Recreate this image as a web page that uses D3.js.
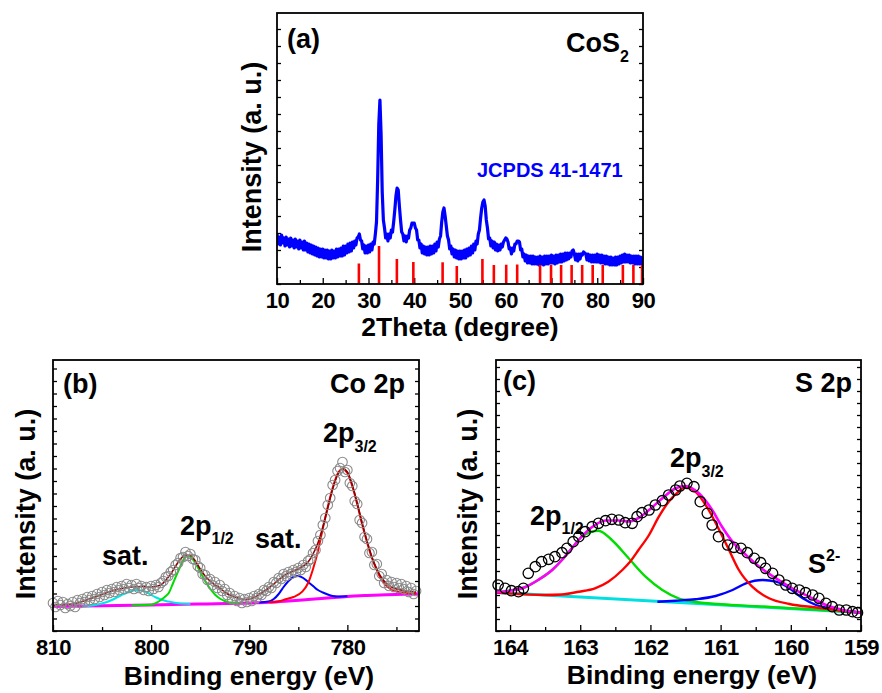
<!DOCTYPE html>
<html><head><meta charset="utf-8">
<script src="https://cdn.jsdelivr.net/npm/d3@7"></script>
<style>
body{margin:0;background:#fff}
text{font-family:"Liberation Sans",Arial,sans-serif;font-weight:bold;fill:#000}
</style>
</head><body>
<svg id="chart" width="882" height="693"></svg>
<script>
// ---------------- Panel (a): XRD ----------------
const xrdTicks = [10,20,30,40,50,60,70,80,90];
const xrdMinorTicks = [15,25,35,45,55,65,75,85];
const xrdData = [
[10,50],[10.25,40],[10.5,47],[10.75,39],[11,49],[11.25,41],[11.5,46],[11.75,38],[12,47],[12.25,39],[12.5,45],[12.75,37],
[13,46],[13.25,38],[13.5,44],[13.75,36],[14,45],[14.25,37],[14.5,43],[14.75,35],[15,44],[15.25,36],[15.5,42],[15.75,34],
[16,43],[16.25,34],[16.5,41],[16.75,32],[17,40],[17.25,31],[17.5,39],[17.75,30],[18,38],[18.25,29],[18.5,37],[18.75,28],
[19,36],[19.25,27],[19.5,35],[19.75,27],[20,35],[20.25,26],[20.5,34],[20.75,26],[21,34],[21.25,25],[21.5,33],[21.75,25],
[22,34],[22.25,26],[22.5,33],[22.75,26],[23,35],[23.25,27],[23.5,35],[23.75,28],[24,36],[24.25,28],[24.5,38],[24.75,29],
[25,38],[25.25,31],[25.5,40],[25.75,32],[26,41],[26.25,33],[26.5,42],[26.75,36],[27,43],[27.25,39],[27.5,46],[27.75,47],
[28,50],[28.25,44],[28.5,43],[28.75,35],[29,39],[29.25,31],[29.5,38],[29.75,31],[30,39],[30.25,32],[30.5,40],[30.75,34],
[31,42],[31.25,40],[31.5,50],[31.75,62],[32,104],[32.25,160],[32.5,184],[32.75,150],[33,92],[33.25,64],[33.5,56],[33.75,46],
[34,50],[34.25,43],[34.5,50],[34.75,46],[35,54],[35.25,52],[35.5,62],[35.75,74],[36,88],[36.25,96],[36.5,94],[36.75,78],
[37,64],[37.25,52],[37.5,50],[37.75,43],[38,48],[38.25,42],[38.5,48],[38.75,46],[39,54],[39.25,56],[39.5,61],[39.75,61],
[40,61],[40.25,56],[40.5,54],[40.75,44],[41,44],[41.25,36],[41.5,40],[41.75,31],[42,38],[42.25,30],[42.5,37],[42.75,29],
[43,37],[43.25,29],[43.5,38],[43.75,30],[44,38],[44.25,31],[44.5,40],[44.75,33],[45,42],[45.25,37],[45.5,45],[45.75,48],
[46,62],[46.25,72],[46.5,76],[46.75,68],[47,58],[47.25,48],[47.5,44],[47.75,35],[48,38],[48.25,30],[48.5,35],[48.75,27],
[49,34],[49.25,26],[49.5,33],[49.75,25],[50,33],[50.25,25],[50.5,33],[50.75,26],[51,34],[51.25,26],[51.5,35],[51.75,28],
[52,36],[52.25,29],[52.5,38],[52.75,31],[53,40],[53.25,34],[53.5,43],[53.75,40],[54,50],[54.25,54],[54.5,66],[54.75,76],
[55,82],[55.25,84],[55.5,78],[55.75,64],[56,56],[56.25,45],[56.5,46],[56.75,38],[57,43],[57.25,36],[57.5,42],[57.75,34],
[58,40],[58.25,33],[58.5,39],[58.75,34],[59,40],[59.25,37],[59.5,42],[59.75,44],[60,46],[60.25,45],[60.5,42],[60.75,35],
[61,36],[61.25,30],[61.5,36],[61.75,33],[62,40],[62.25,40],[62.5,43],[62.75,43],[63,42],[63.25,34],[63.5,35],[63.75,27],
[64,30],[64.25,23],[64.5,29],[64.75,21],[65,28],[65.25,21],[65.5,28],[65.75,20],[66,28],[66.25,20],[66.5,27],[66.75,20],
[67,27],[67.25,19],[67.5,28],[67.75,20],[68,27],[68.25,19],[68.5,28],[68.75,20],[69,28],[69.25,20],[69.5,28],[69.75,21],
[70,29],[70.25,21],[70.5,28],[70.75,20],[71,29],[71.25,21],[71.5,29],[71.75,22],[72,30],[72.25,22],[72.5,30],[72.75,23],
[73,31],[73.25,24],[73.5,31],[73.75,25],[74,31],[74.25,27],[74.5,33],[74.75,34],[75,30],[75.25,24],[75.5,30],[75.75,23],
[76,30],[76.25,25],[76.5,30],[76.75,29],[77,32],[77.25,31],[77.5,30],[77.75,24],[78,30],[78.25,23],[78.5,29],[78.75,22],
[79,29],[79.25,22],[79.5,29],[79.75,22],[80,30],[80.25,22],[80.5,29],[80.75,21],[81,29],[81.25,21],[81.5,28],[81.75,20],
[82,28],[82.25,20],[82.5,27],[82.75,19],[83,27],[83.25,19],[83.5,26],[83.75,19],[84,27],[84.25,19],[84.5,27],[84.75,20],
[85,28],[85.25,21],[85.5,29],[85.75,22],[86,30],[86.25,22],[86.5,29],[86.75,22],[87,29],[87.25,21],[87.5,28],[87.75,21],
[88,28],[88.25,20],[88.5,28],[88.75,20],[89,28],[89.25,20],[89.5,27],[89.75,20],[90,27]
];
const jcpdsAngle = [27.9,32.3,36.2,39.8,46.2,49.3,54.9,57.4,60.1,62.5,67.5,69.9,72.1,74.4,76.7,79.0,81.2,85.6,87.9,89.8];
const jcpdsInt   = [20.5,38,25,22,21.7,18,25,19,19.3,19.5,19,19,19,19,19,19,19,19,19,19];

// ---------------- Panel (b): Co 2p ----------------
const coTicks = [810,800,790,780];
const coMinorTicks = [805,795,785,775];
const coData = [
[810,28],[809.75,24],[809.5,30],[809.25,26],[809,29],[808.75,23],[808.5,27],[808.25,25],[808,29],[807.75,24],[807.5,31],[807.25,28],
[807,32],[806.75,29],[806.5,34],[806.25,31],[806,35],[805.75,32],[805.5,37],[805.25,34],[805,39],[804.75,36],[804.5,41],[804.25,38],
[804,42],[803.75,39],[803.5,44],[803.25,41],[803,45],[802.75,42],[802.5,47],[802.25,43],[802,46],[801.75,42],[801.5,47],[801.25,43],
[801,45],[800.75,41],[800.5,44],[800.25,40],[800,45],[799.75,42],[799.5,46],[799.25,44],[799,48],[798.75,50],[798.5,54],[798.25,55],
[798,59],[797.75,61],[797.5,66],[797.25,68],[797,73],[796.75,74],[796.5,79],[796.25,75],[796,77],[795.75,72],[795.5,71],[795.25,65],
[795,63],[794.75,57],[794.5,56],[794.25,51],[794,52],[793.75,46],[793.5,49],[793.25,43],[793,46],[792.75,40],[792.5,42],[792.25,36],
[792,38],[791.75,32],[791.5,35],[791.25,30],[791,33],[790.75,28],[790.5,32],[790.25,29],[790,33],[789.75,30],[789.5,35],[789.25,33],
[789,37],[788.75,36],[788.5,41],[788.25,40],[788,44],[787.75,43],[787.5,49],[787.25,48],[787,53],[786.75,52],[786.5,57],[786.25,55],
[786,59],[785.75,57],[785.5,61],[785.25,59],[785,63],[784.75,61],[784.5,66],[784.25,64],[784,70],[783.75,72],[783.5,78],[783.25,81],
[783,90],[782.75,96],[782.5,106],[782.25,113],[782,126],[781.75,133],[781.5,146],[781.25,151],[781,160],[780.75,163],[780.5,169],[780.25,159],
[780,161],[779.75,148],[779.5,145],[779.25,130],[779,127],[778.75,111],[778.5,108],[778.25,94],[778,92],[777.75,78],[777.5,79],[777.25,66],
[777,67],[776.75,55],[776.5,57],[776.25,48],[776,51],[775.75,45],[775.5,49],[775.25,44],[775,48],[774.75,43],[774.5,47],[774.25,42],
[774,45],[773.75,39],[773.5,43],[773.25,37],[773,40]
];
const coEnvelope = [[810,26],[808,27],[806,33],[804,40],[802,44],[801,44.5],[800,44],[799,46],[798.5,51],[798,57],[797.5,65],[797,72],
[796.5,76],[796,75.5],[795.5,70],[795,62],[794.5,55],[794,50],[793.5,46],[793,43],[792.5,39],[792,36],[791.5,34],[791,32.5],[790.5,31.5],
[790,32],[789.5,33.5],[789,36.5],[788.5,39.5],[788,43],[787.5,47],[787,51],[786.5,55],[786,58],[785.5,60],[785,62],[784.5,65],[784,69],
[783.5,77],[783,88],[782.5,104],[782,123],[781.5,142],[781,156],[780.5,162.5],[780,159],[779.5,146],[779,128],[778.5,108],[778,90],
[777.5,74],[777,62],[776.5,53],[776,47.5],[775.5,44],[775,42],[774.5,41],[774,40],[773,39]];
const coRed = [[788,28.7],[787,29.6],[786.3,31.7],[785.5,34],[784.6,39.3],[784,48],[783.5,62],[783,80],[782.6,98],[782,124],[781.5,143],
[781,157],[780.5,162],[780,158],[779.5,145],[779,127],[778.5,107],[778,89],[777.5,73],[777,61],[776.5,51],[776,45],[775.5,41.5],[775,39.5],[774,38],[773,37.5]];
const coBlue = [[789,28.5],[788,29.5],[787.5,32],[787,37],[786.5,44],[786,50],[785.5,54],[785,55],[784.5,53],[784,49],[783.5,45],[783,41],
[782.5,38.5],[782,36.5],[781.5,35],[781,34.5],[780,34.8]];
const coGreen = [[802,25.5],[801,26],[800,26.3],[799.5,28],[799,31],[798.5,35],[798.2,38],[797.8,47],[797.5,54],[797,65],[796.6,73],
[796.3,75],[796,74],[795.5,68],[795,59],[794.5,50],[794,42.5],[793.5,36.5],[793,32.5],[792.5,30],[792,28.5],[791,28]];
const coCyan = [[807,24.5],[806,25.5],[805,27.5],[804,31],[803,36],[802,40],[801.5,41],[801,40.5],[800.5,39],[800,36],[799.5,33.5],
[799,31.5],[798.5,30],[798,29],[797,27.5],[796,27]];
const coBaseline = [[810,24.5],[800,26],[795,27],[790,28],[788,28.7],[786,30],[784,31.5],[782,33],[780,34.5],[778,35.5],[776,36.3],[772.7,37.3]];

// ---------------- Panel (c): S 2p ----------------
const sTicks = [164,163,162,161,160,159];
const sMinorTicks = [163.5,162.5,161.5,160.5,159.5];
const sData = [
[164.17,46],[164.07,42.7],[163.98,40.3],[163.88,39.3],[163.81,42.7],[163.74,57.7],[163.64,64.3],[163.55,69.3],[163.45,71.7],
[163.36,74.3],[163.26,78.3],[163.19,82.7],[163.10,89.3],[163.02,94.3],[162.93,99.3],[162.83,104.3],[162.74,107.7],[162.64,110.3],
[162.55,111.7],[162.45,111],[162.36,108.3],[162.26,107.7],[162.19,114.3],[162.12,118.3],[162.02,121],[161.93,126],[161.83,130.3],
[161.74,136],[161.64,141],[161.58,145],[161.48,147.7],[161.38,144.3],[161.29,129.3],[161.19,117.7],[161.12,106],[161.03,94.3],
[160.9,86],[160.81,83.7],[160.71,82.7],[160.62,78.3],[160.52,72.7],[160.43,68.3],[160.36,62.7],[160.26,57.7],[160.17,51],[160.07,46],
[159.98,42.7],[159.88,41],[159.79,38.3],[159.69,36],[159.6,32.7],[159.5,27.7],[159.41,24.3],[159.31,21],[159.21,21],[159.12,19.3],[159.05,18.3]
];
const sEnvelope = [[164.2,38.7],[164.0,40.3],[163.79,43.7],[163.6,51],[163.4,61],[163.26,71],[163.12,82.7],[162.98,94.3],[162.83,104],
[162.64,110.5],[162.45,110.5],[162.31,109.5],[162.17,113],[162.02,121],[161.83,132.7],[161.64,142.7],[161.5,145],[161.31,137.7],
[161.12,121],[160.98,104.3],[160.83,89.3],[160.64,76],[160.45,64.3],[160.21,52.7],[159.98,42.7],[159.74,34.3],[159.5,26],[159.26,21],[159.0,18.3]];
const sRed = [[164.2,38.5],[163.5,36],[163.26,36.5],[163.02,39.3],[162.79,42.7],[162.6,49.3],[162.4,61],[162.29,69.3],[162.17,81],
[162.02,96],[161.88,114.3],[161.74,129.3],[161.6,139.3],[161.52,143.5],[161.45,143],[161.36,139.3],[161.17,121],[161.02,101],[160.88,81],
[160.74,61],[160.55,44.3],[160.31,32.7],[160.02,27],[159.64,23.5],[159.3,20.5],[159.0,18.5]];
const sGreen = [[164.2,38.7],[164.02,40.3],[163.79,43.7],[163.6,51],[163.4,61],[163.26,71],[163.12,82.7],[162.98,94.3],[162.85,99],
[162.74,100.3],[162.55,91],[162.31,72.7],[162.07,54.3],[161.83,41],[161.6,32.7],[161.4,29.5],[161.0,26.8],[160.5,24.8],[160.0,22.8],[159.5,20.8],[159.0,18.5]];
const sBlue = [[161.9,29.2],[161.64,30.3],[161.36,31.7],[161.07,35],[160.83,41],[160.64,47.7],[160.4,51],[160.21,49.3],[160.02,42.7],
[159.83,32.7],[159.64,26],[159.45,22.7],[159.2,19.8],[159.0,18.5]];
const sBaseline = [[164.2,38.6],[159.0,18.4]];

// ---------------- drawing ----------------
const svg = d3.select("#chart");

function panel(cfg) {
  const g = svg.append("g");
  const x = d3.scaleLinear().domain(cfg.xDomain).range([cfg.x0, cfg.x1]);
  const y = d3.scaleLinear().domain([0, 271]).range([cfg.y1, cfg.y0]);
  const id = "clip" + cfg.name;
  svg.append("clipPath").attr("id", id).append("rect")
    .attr("x", cfg.x0).attr("y", cfg.y0).attr("width", cfg.x1 - cfg.x0).attr("height", cfg.y1 - cfg.y0);
  const ax = g.append("g").attr("transform", `translate(0,${cfg.y1})`)
    .call(d3.axisBottom(x).tickValues(cfg.ticks).tickSize(-6).tickPadding(8.5).tickFormat(d3.format("d")));
  ax.selectAll("text").style("font-size", "22px").style("letter-spacing", "-0.6px");
  g.append("g").attr("transform", `translate(0,${cfg.y1})`)
    .call(d3.axisBottom(x).tickValues(cfg.minor).tickSize(-4).tickFormat(""));
  const yt = d3.range(0, 271, cfg.yStep);
  g.append("g").attr("transform", `translate(${cfg.x0},0)`)
    .call(d3.axisLeft(y).tickValues(yt).tickSize(-4).tickFormat(""));
  g.append("g").attr("transform", `translate(${cfg.x1},0)`)
    .call(d3.axisRight(y).tickValues(yt).tickSize(-4).tickFormat(""));
  g.selectAll(".domain").remove();
  g.selectAll(".tick line").attr("stroke", "#000").attr("stroke-width", 1.3);
  const plot = svg.append("g").attr("clip-path", `url(#${id})`);
  return {g, x, y, plot, cfg};
}

function frame(p) {
  const c = p.cfg;
  svg.append("rect").attr("x", c.x0).attr("y", c.y0).attr("width", c.x1 - c.x0).attr("height", c.y1 - c.y0)
    .attr("fill", "none").attr("stroke", "#000").attr("stroke-width", 1.8);
}

function titles(p, xt, xtx, xty, ytx, yty) {
  svg.append("text").attr("x", xtx).attr("y", xty).attr("text-anchor", "middle")
    .style("font-size", "26.5px").text(xt);
  svg.append("text").attr("transform", `translate(${ytx},${yty}) rotate(-90)`).attr("text-anchor", "middle")
    .style("font-size", "27px").text("Intensity (a. u.)");
}

function label(x, y, main, sub, subDy, size, color) {
  const t = svg.append("text").attr("x", x).attr("y", y).style("font-size", (size || 27) + "px");
  if (color) t.style("fill", color);
  t.append("tspan").text(main);
  if (sub) t.append("tspan").attr("dy", subDy).style("font-size", "16px").text(sub);
}

function curve(p, data, color, w, smooth) {
  const line = d3.line().x(d => p.x(d[0])).y(d => p.y(d[1]));
  if (smooth) line.curve(d3.curveMonotoneX);
  p.plot.append("path").datum(data).attr("d", line).attr("fill", "none")
    .attr("stroke", color).attr("stroke-width", w).attr("stroke-linejoin", "round");
}

// Panel a
const pa = panel({name: "a", x0: 277, x1: 643, y0: 13, y1: 284, xDomain: [10, 90],
  ticks: xrdTicks, minor: xrdMinorTicks, yStep: 17});
curve(pa, xrdData, "#0000ff", 3.2, false);
pa.plot.selectAll("line.ref").data(jcpdsAngle).join("line").attr("class", "ref")
  .attr("x1", d => pa.x(d)).attr("x2", d => pa.x(d))
  .attr("y1", pa.y(0)).attr("y2", (d, i) => pa.y(jcpdsInt[i]))
  .attr("stroke", "#ff0000").attr("stroke-width", 2.6);
frame(pa);
titles(pa, "2Theta (degree)", 460, 336, 261, 157);
label(287, 48, "(a)");
label(566, 52, "CoS", "2", 10);
label(477, 177, "JCPDS 41-1471", null, 0, 20, "#0000ff");

// Panel b
const pb = panel({name: "b", x0: 53, x1: 419, y0: 360, y1: 631, xDomain: [810, 772.7],
  ticks: coTicks, minor: coMinorTicks, yStep: 12.5});
curve(pb, coBaseline, "#ff00ff", 3, true);
curve(pb, coCyan, "#00e5e5", 2, true);
curve(pb, coGreen, "#00dd00", 2, true);
curve(pb, coBlue, "#0000ff", 2, true);
curve(pb, coRed, "#ff0000", 2, true);
curve(pb, coEnvelope, "#8b0000", 1.6, true);
svg.append("g").selectAll("circle").data(coData).join("circle")
  .attr("cx", d => pb.x(d[0])).attr("cy", d => pb.y(d[1])).attr("r", 4.8)
  .attr("fill", "none").attr("stroke", "#8a8a8a").attr("stroke-width", 1.1);
frame(pb);
titles(pb, "Binding energy (eV)", 249, 684.5, 35, 504);
label(63, 393, "(b)");
label(330, 393, "Co 2p");
label(102, 565, "sat.");
label(180, 535, "2p", "1/2", 9);
label(255, 548, "sat.");
label(323, 442, "2p", "3/2", 10);

// Panel c
const pc = panel({name: "c", x0: 496, x1: 861, y0: 360, y1: 631, xDomain: [164.2, 159],
  ticks: sTicks, minor: sMinorTicks, yStep: 12});
curve(pc, sBaseline, "#00e0e0", 3, false);
curve(pc, sGreen, "#00dd00", 2.4, true);
curve(pc, sBlue, "#0000ff", 2.4, true);
curve(pc, sRed, "#ff0000", 2.4, true);
curve(pc, sEnvelope, "#ff00ff", 2.6, true);
svg.append("g").selectAll("circle").data(sData).join("circle")
  .attr("cx", d => pc.x(d[0])).attr("cy", d => pc.y(d[1])).attr("r", 5.2)
  .attr("fill", "none").attr("stroke", "#000").attr("stroke-width", 1.3);
frame(pc);
titles(pc, "Binding energy (eV)", 692, 684, 477, 504);
label(503, 390, "(c)");
label(795, 392, "S 2p");
label(670, 467, "2p", "3/2", 10);
label(530, 525, "2p", "1/2", 9);
label(808, 573, "S", "2-", -12);
</script>
</body></html>
